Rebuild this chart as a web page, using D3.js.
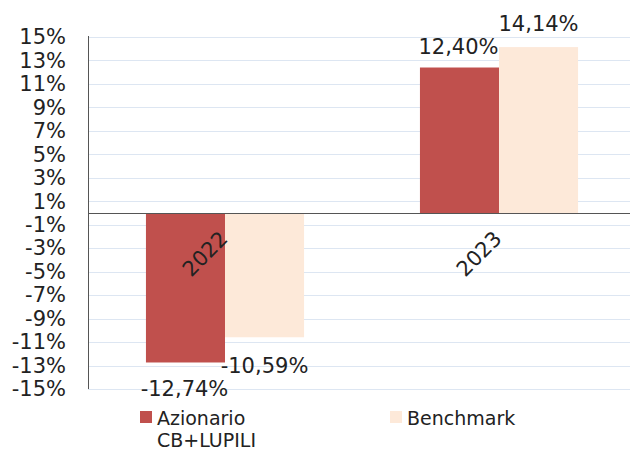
<!DOCTYPE html>
<html>
<head>
<meta charset="utf-8">
<script src="https://cdn.jsdelivr.net/npm/d3@7"></script>
<style>
  body { margin: 0; background: #fff; }
  text { font-family: "DejaVu Sans", Verdana, sans-serif; fill: #222; }
</style>
</head>
<body>
<div id="chart"></div>
<script>
// data
var years = ["2022", "2023"];
var series = ["Azionario CB+LUPILI", "Benchmark"];
var fondo = [-12.74, 12.40];
var benchmark = [-10.59, 14.14];
var yTicks = [15, 13, 11, 9, 7, 5, 3, 1, -1, -3, -5, -7, -9, -11, -13, -15];
var colors = ["#c0504d", "#fde9d9"];

var width = 630, height = 452;
var margin = {top: 37, right: -6, bottom: 63, left: 88};

var svg = d3.select("#chart")
  .append("svg")
  .attr("width", width)
  .attr("height", height);

var g = svg.append("g")
  .attr("transform", "translate(" + margin.left + "," + margin.top + ")");

var w = width - margin.left - margin.right,
    h = height - margin.top - margin.bottom;

var y = d3.scaleLinear().domain([-15, 15]).range([h, 0]);

var x = d3.scaleBand().domain(years).range([0, w]).paddingInner(0.423).paddingOuter(0.2115);
var xs = d3.scaleBand().domain(series).range([0, x.bandwidth()]);

// gridlines
g.selectAll(".grid")
  .data(yTicks)
  .enter().append("line")
  .attr("x1", 0).attr("x2", width - margin.left)
  .attr("y1", function(d) { return Math.round(y(d)) + 0.5; })
  .attr("y2", function(d) { return Math.round(y(d)) + 0.5; })
  .style("stroke", "#dde6f2")
  .style("stroke-width", 1);

// y axis
var yAxis = g.append("g")
  .call(d3.axisLeft(y).tickValues(yTicks).tickSize(0).tickPadding(22)
    .tickFormat(function(d) { return d + "%"; }));
yAxis.select(".domain").remove();
yAxis.selectAll("text").style("font-size", "21px").style("fill", "#222")
  .style("font-family", "DejaVu Sans, Verdana, sans-serif");

g.append("line")
  .attr("x1", 0.5).attr("x2", 0.5)
  .attr("y1", -1).attr("y2", h)
  .style("stroke", "#555");

// bars
var rows = years.map(function(yr, i) {
  return {year: yr, vals: [fondo[i], benchmark[i]]};
});

var groups = g.selectAll(".grp")
  .data(rows)
  .enter().append("g")
  .attr("transform", function(d) { return "translate(" + x(d.year) + ",0)"; });

groups.selectAll("rect")
  .data(function(d) { return d.vals.map(function(v, i) { return {s: series[i], v: v, i: i}; }); })
  .enter().append("rect")
  .attr("x", function(d) { return xs(d.s); })
  .attr("width", xs.bandwidth())
  .attr("y", function(d) { return y(Math.max(0, d.v)); })
  .attr("height", function(d) { return Math.abs(y(d.v) - y(0)); })
  .style("fill", function(d) { return colors[d.i]; });

// value labels
groups.selectAll(".lbl")
  .data(function(d) { return d.vals.map(function(v, i) { return {s: series[i], v: v, i: i}; }); })
  .enter().append("text")
  .attr("x", function(d) { return xs(d.s) + xs.bandwidth() / 2 + (d.i === 0 ? -1 : 0); })
  .attr("y", function(d) {
    if (d.v >= 0) return y(d.v) - (d.i === 0 ? 14 : 16);
    return y(d.v) + (d.i === 0 ? 34 : 36);
  })
  .attr("text-anchor", "middle")
  .style("font-size", "21px")
  .text(function(d) { return d.v.toFixed(2).replace(".", ",") + "%"; });

// zero line
g.append("line")
  .attr("x1", 0).attr("x2", width - margin.left)
  .attr("y1", Math.round(y(0)) + 0.5).attr("y2", Math.round(y(0)) + 0.5)
  .style("stroke", "#555");

// category labels rotated
g.selectAll(".cat")
  .data(years)
  .enter().append("text")
  .attr("text-anchor", "end")
  .attr("transform", function(d) {
    return "translate(" + (x(d) + x.bandwidth() / 2 + 4) + "," + (y(0) + 27) + ") rotate(-45)";
  })
  .style("font-size", "21px")
  .text(function(d) { return d; });

// legend
var legend = svg.append("g").attr("transform", "translate(140,411)");
var items = [
  {lines: ["Azionario", "CB+LUPILI"], x: 0},
  {lines: ["Benchmark"], x: 250}
];
items.forEach(function(it, i) {
  var lg = legend.append("g").attr("transform", "translate(" + it.x + ",0)");
  lg.append("rect").attr("width", 12).attr("height", 12).style("fill", colors[i]);
  lg.selectAll("text").data(it.lines).enter().append("text")
    .attr("x", 17)
    .attr("y", function(d, j) { return 14 + j * 22; })
    .style("font-size", "19px")
    .text(function(d) { return d; });
});
</script>
</body>
</html>
